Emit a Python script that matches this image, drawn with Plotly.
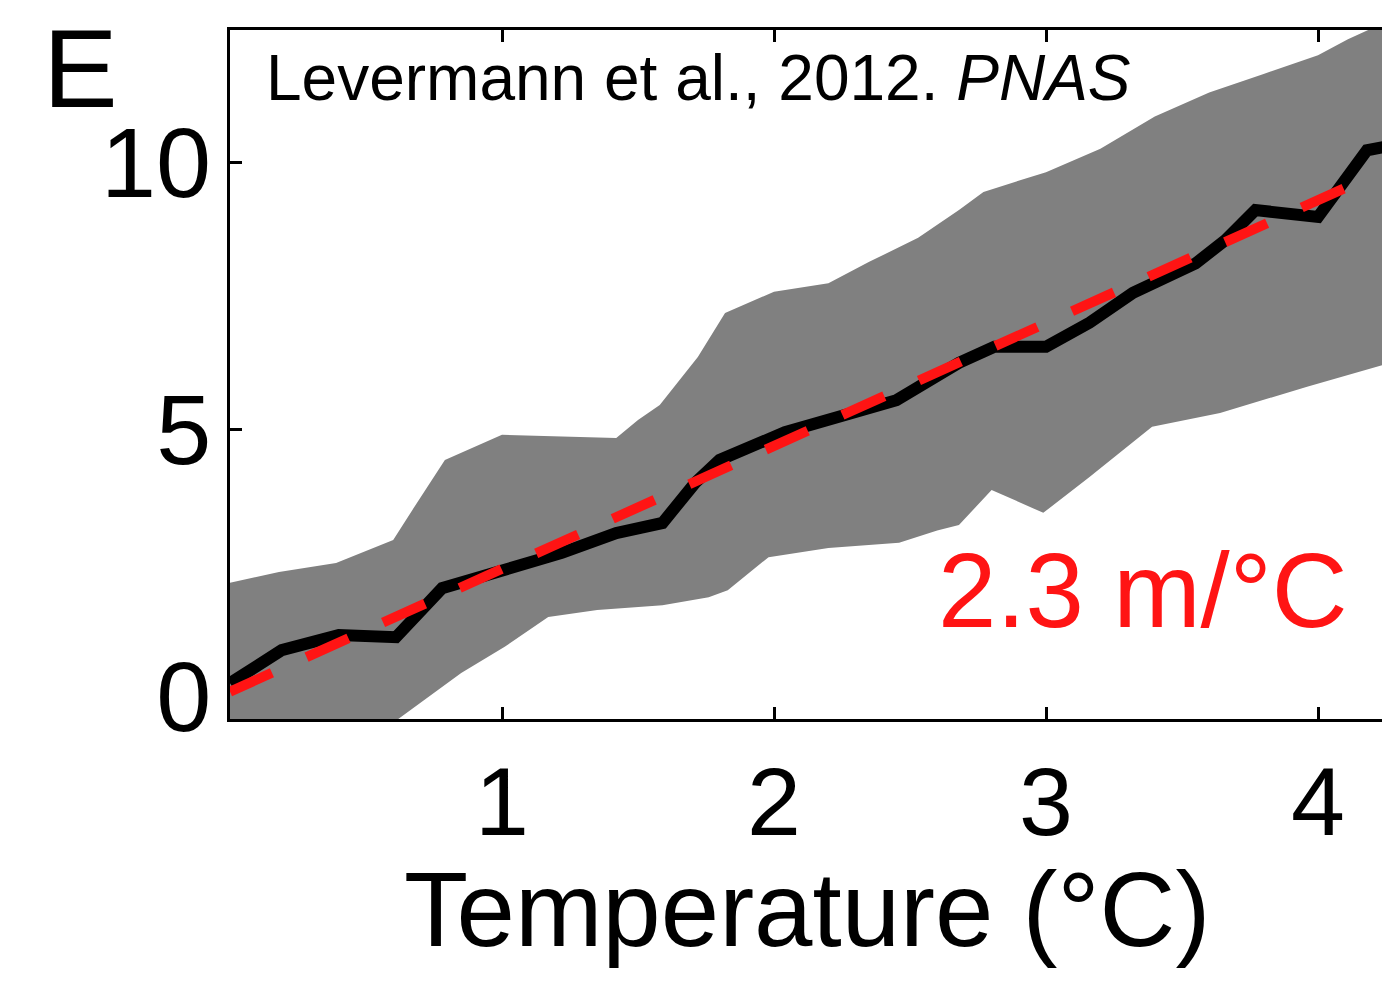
import plotly.graph_objects as go

# ---- data ----
band_upper_x = [0.0, 0.18, 0.39, 0.60, 0.67, 0.79, 1.00, 1.42, 1.50, 1.58, 1.72, 1.82, 2.00, 2.20,
                2.35, 2.53, 2.68, 2.77, 3.00, 3.20, 3.40, 3.60, 3.80, 4.00, 4.11, 4.24]
band_upper_y = [2.12, 2.32, 2.49, 2.92, 3.48, 4.42, 4.89, 4.83, 5.17, 5.45, 6.35, 7.17, 7.57, 7.73,
                8.13, 8.58, 9.10, 9.44, 9.81, 10.25, 10.85, 11.30, 11.65, 12.00, 12.30, 12.60]

band_lower_x = [0.0, 0.40, 0.60, 0.63, 0.85, 1.01, 1.17, 1.35, 1.59, 1.76, 1.83, 1.98, 2.20, 2.46,
                2.60, 2.68, 2.80, 2.99, 3.16, 3.39, 3.64, 3.96, 4.24]
band_lower_y = [-1.00, -0.75, -0.50, -0.39, 0.43, 0.92, 1.48, 1.61, 1.70, 1.85, 1.98, 2.60, 2.77, 2.87,
                3.10, 3.20, 3.86, 3.43, 4.10, 5.04, 5.30, 5.79, 6.20]

median_x = [0.0, 0.19, 0.40, 0.61, 0.78, 0.88, 1.01, 1.22, 1.42, 1.59, 1.71, 1.80, 2.04, 2.25, 2.45,
            2.68, 2.81, 3.00, 3.16, 3.32, 3.42, 3.55, 3.66, 3.77, 4.00, 4.18, 4.24]
median_y = [0.24, 0.86, 1.14, 1.10, 2.02, 2.17, 2.32, 2.68, 3.05, 3.24, 3.99, 4.42, 4.94, 5.22, 5.54,
            6.24, 6.54, 6.54, 6.99, 7.55, 7.80, 8.10, 8.54, 9.10, 8.97, 10.22, 10.28]

fit_x = [0.0, 4.15]
fit_y = [0.08, 9.63]

x_ticks = [1, 2, 3, 4]
y_ticks = [0, 5, 10]

panel_label = "E"
source_label = "Levermann et al., 2012. <i>PNAS</i>"
rate_label = "2.3 m/°C"
x_title = "Temperature (°C)"

FONT = "Liberation Sans, Arial, Helvetica, sans-serif"

W, H = 1382, 981
L, R, T, B = 230, 0, 30, 262
PW, PH = W - L - R, H - T - B


def px(xp):
    return (xp - L) / PW


def py(yp):
    return (H - B - yp) / PH


fig = go.Figure()

fig.add_trace(go.Scatter(x=band_lower_x, y=band_lower_y, mode="lines",
                         line=dict(width=0, color="#808080"), hoverinfo="skip", showlegend=False))
fig.add_trace(go.Scatter(x=band_upper_x, y=band_upper_y, mode="lines",
                         line=dict(width=0, color="#808080"), fill="tonexty",
                         fillcolor="#808080", hoverinfo="skip", showlegend=False))
fig.add_trace(go.Scatter(x=median_x, y=median_y, mode="lines",
                         line=dict(color="black", width=12), showlegend=False))
fig.add_trace(go.Scatter(x=fit_x, y=fit_y, mode="lines",
                         line=dict(color="#ff1414", width=10, dash="46px,38px"), showlegend=False))

fig.update_layout(
    width=W, height=H,
    margin=dict(l=L, r=R, t=T, b=B, pad=0),
    paper_bgcolor="white", plot_bgcolor="white",
    font=dict(family=FONT, color="black"),
    xaxis=dict(range=[0, PW / 272.0], tickvals=x_ticks, ticktext=[str(v) for v in x_ticks],
               ticks="inside", ticklen=12, tickwidth=3, tickcolor="black",
               showline=True, linecolor="black", linewidth=3, mirror="ticks",
               showgrid=False, zeroline=False, layer="below traces",
               tickfont=dict(size=97, family=FONT), ticklabelstandoff=-3),
    yaxis=dict(range=[-(719 - 696) / 53.4, (696 - 30) / 53.4], tickvals=y_ticks,
               ticktext=[str(v) for v in y_ticks],
               ticks="inside", ticklen=12, tickwidth=3, tickcolor="black",
               showline=True, linecolor="black", linewidth=3, mirror=False,
               showgrid=False, zeroline=False, layer="below traces",
               tickfont=dict(size=99, family=FONT), ticklabelstandoff=-4),
    annotations=[
        dict(text=panel_label, xref="paper", yref="paper", x=px(41), y=py(68), xanchor="left",
             yanchor="middle", showarrow=False, font=dict(size=112, family=FONT, color="black")),
        dict(text=source_label, xref="paper", yref="paper", x=px(264), y=py(78), xanchor="left",
             yanchor="middle", showarrow=False, font=dict(size=64, family=FONT, color="black")),
        dict(text=rate_label, xref="paper", yref="paper", x=px(1350), y=py(590), xanchor="right",
             yanchor="middle", showarrow=False, font=dict(size=105, family=FONT, color="#ff1414")),
        dict(text=x_title, xref="paper", yref="paper", x=px(807), y=py(909), xanchor="center",
             yanchor="middle", showarrow=False, font=dict(size=105, family=FONT, color="black")),
    ],
)

fig.write_html("out.html")
